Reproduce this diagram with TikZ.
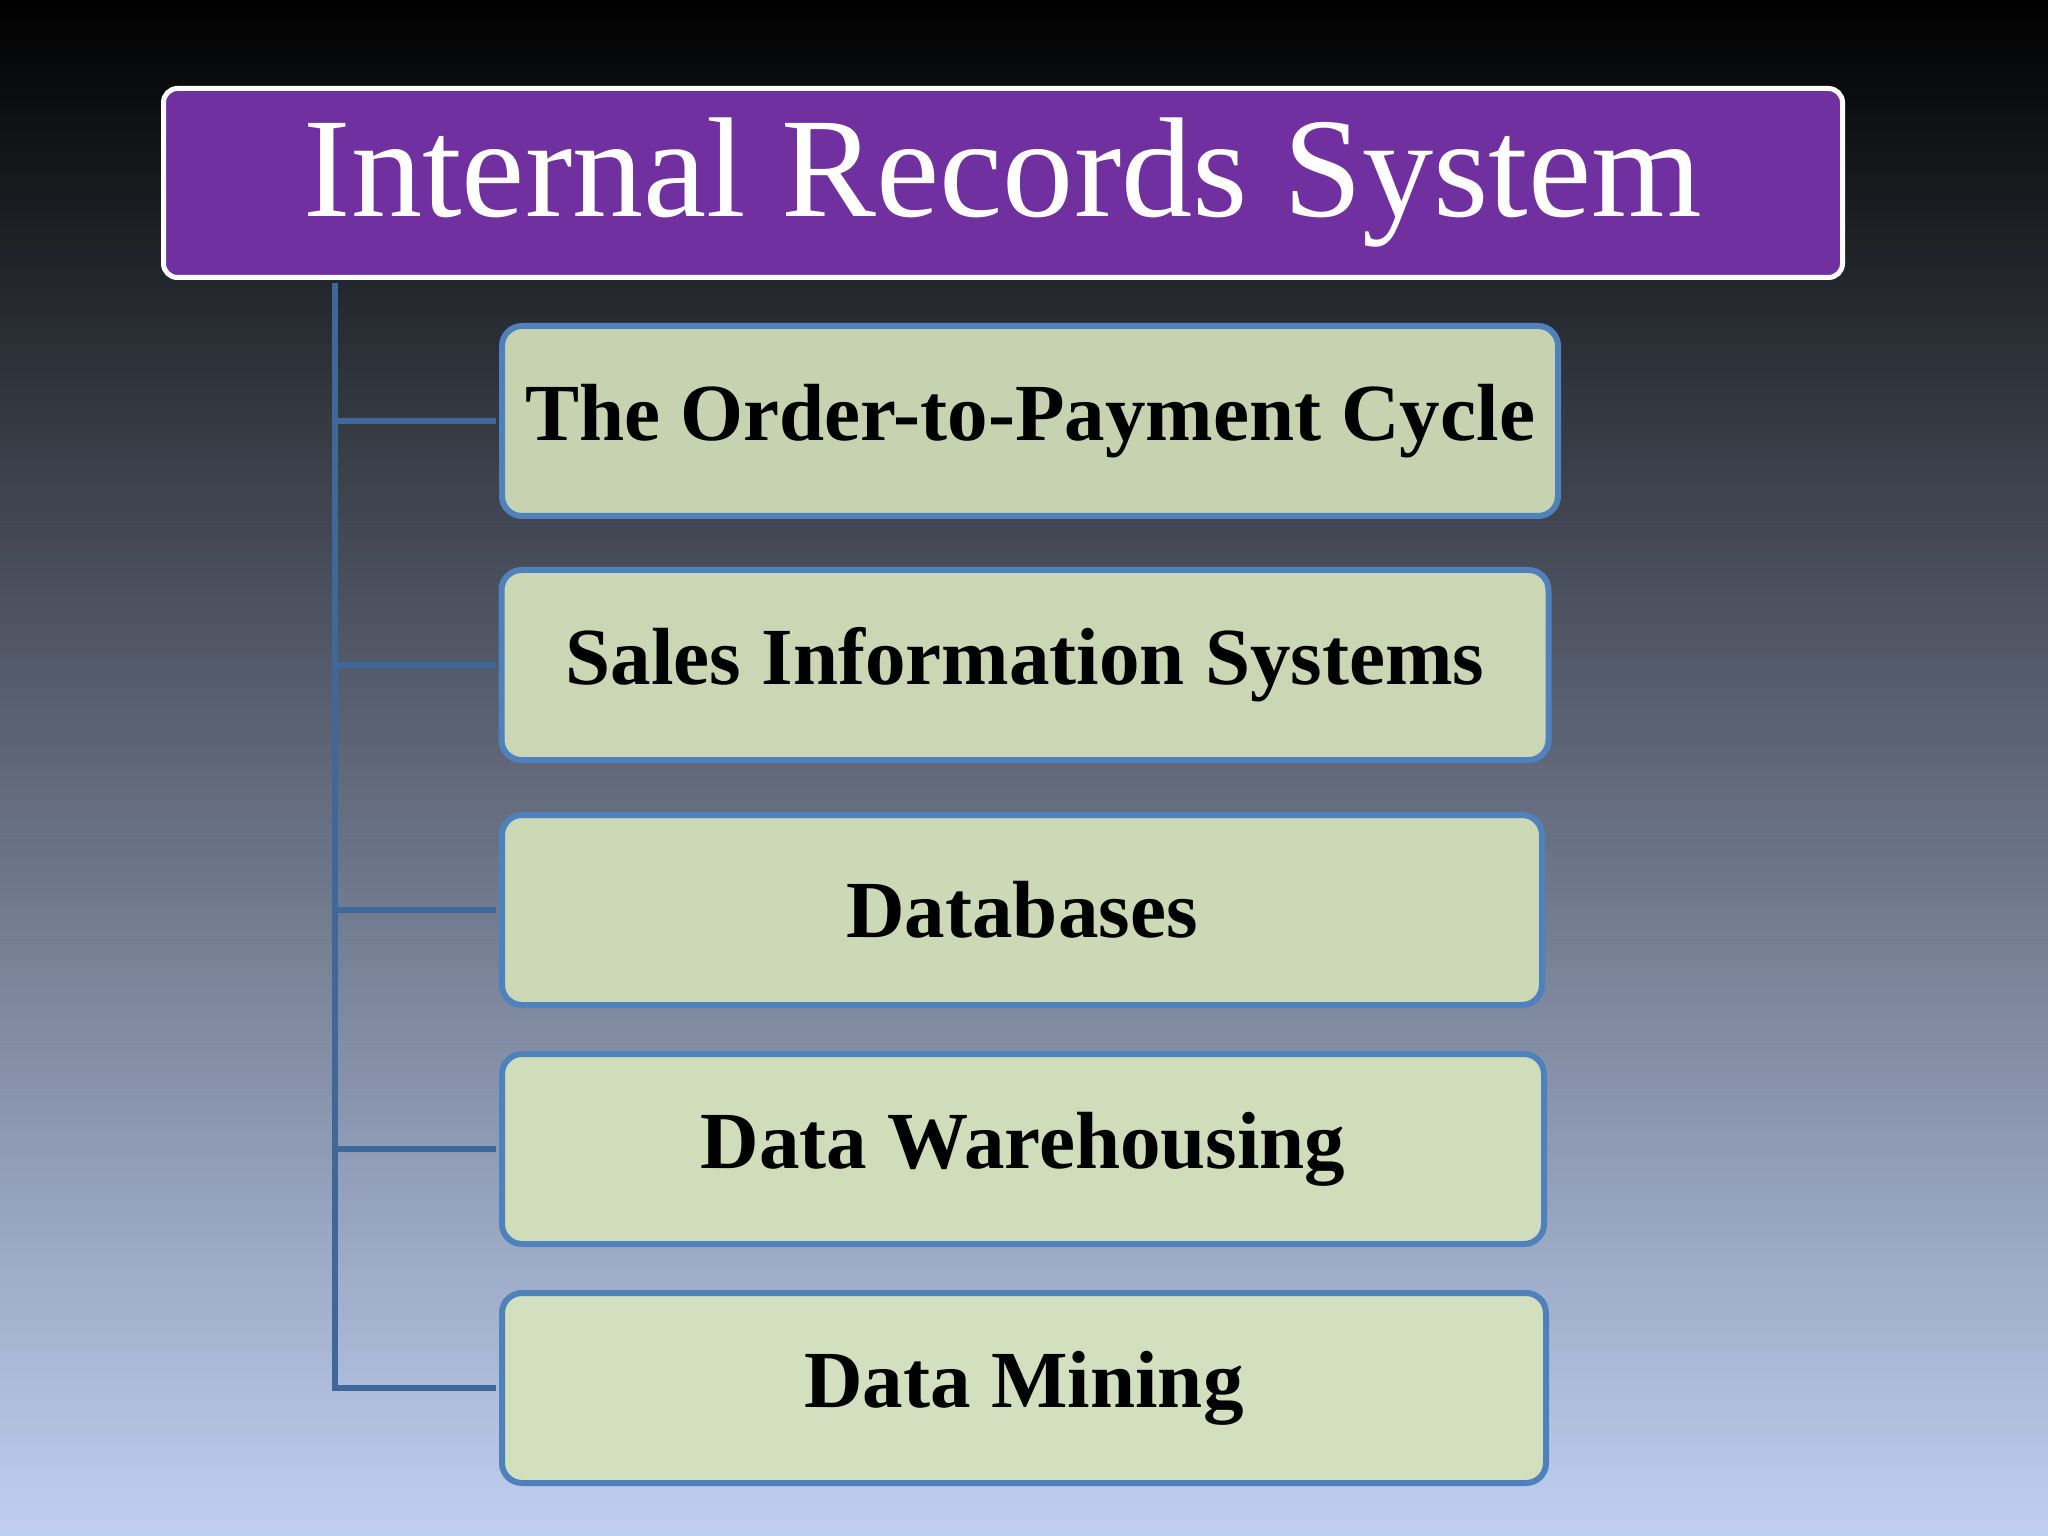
\documentclass[tikz,border=0pt]{standalone}
\usepackage{fontspec}
\setmainfont{Liberation Serif}

\definecolor{titlepurple}{HTML}{7030A0}
\definecolor{itemtop}{HTML}{C7D3B0}
\definecolor{itembottom}{HTML}{D2E0BF}
\definecolor{itemblue}{HTML}{4F81BD}
\definecolor{linkblue}{HTML}{3E679A}
\definecolor{bgmid}{HTML}{5B6172}
\definecolor{bgblue}{HTML}{C0D0F2}

% one pixel of the slide
\newcommand{\pxu}{0.3515625pt}

\begin{document}
\begin{tikzpicture}[x=\pxu, y=-\pxu,
    titlebox/.style={draw=white, line width=5*\pxu, fill=titlepurple,
        rounded corners=14*\pxu, text=white, inner sep=0pt,
        font=\fontsize{50}{58}\selectfont,
        minimum width=1679*\pxu, minimum height=189*\pxu},
    itembox/.style={draw=itemblue, line width=6*\pxu, fill=itembottom!#1!itemtop,
        rounded corners=20*\pxu, inner sep=0pt,
        font=\fontsize{28.5}{34}\selectfont\bfseries,
        minimum height=190*\pxu},
    link/.style={linkblue, line width=5.5*\pxu, shorten >=1pt}]

    % Background
    \shade[top color=black, middle color=bgmid, bottom color=bgblue]
        (0,0) rectangle (2048,1536);

    % Title
    \node[titlebox] (title) at (1003,183) {Internal Records System};

    % Items
    \node[itembox=0, minimum width=1056*\pxu] (b1) at (1030,421) {The Order-to-Payment Cycle};
    \node[itembox=25, minimum width=1047*\pxu] (b2) at (1025,665) {Sales Information Systems};
    \node[itembox=50, minimum width=1040*\pxu] (b3) at (1022,910) {Databases};
    \node[itembox=75, minimum width=1042*\pxu] (b4) at (1023,1149) {Data Warehousing};
    \node[itembox=100, minimum width=1044*\pxu] (b5) at (1024,1388) {Data Mining};

    % Connectors
    \coordinate (spine) at (335,0);
    \draw[link, shorten <=1pt] (title.south -| spine) |- (b5.west);
    \foreach \i in {1,...,4}
        \draw[link] (spine |- b\i.west) -- (b\i.west);
\end{tikzpicture}
\end{document}
